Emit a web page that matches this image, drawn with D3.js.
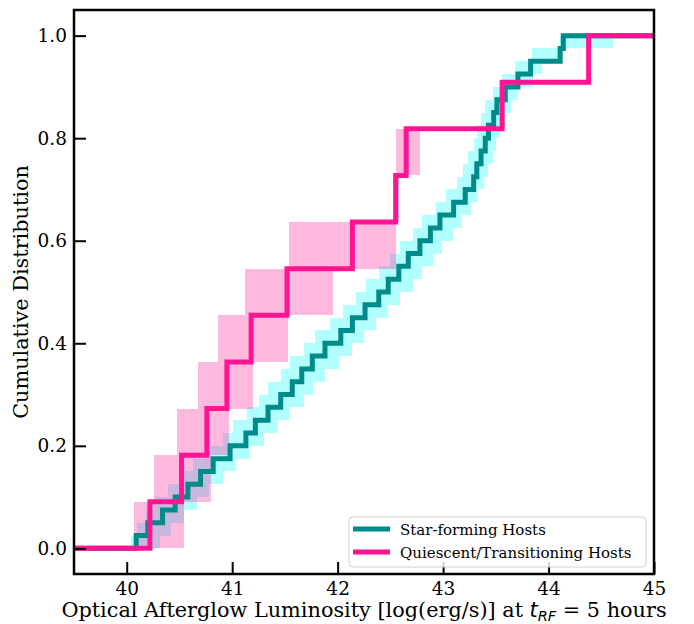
<!DOCTYPE html>
<html>
<head>
<meta charset="utf-8">
<script src="https://cdn.jsdelivr.net/npm/d3@7"></script>
<style>
  html, body { margin: 0; padding: 0; background: #fff; }
  svg { display: block; }
  text { font-family: "DejaVu Serif", serif; fill: #000; }
</style>
</head>
<body>
<svg id="chart" width="694" height="624"></svg>
<script>
// ---- Data ----
const xTicks = [40, 41, 42, 43, 44, 45];
const yTicks = [0.0, 0.2, 0.4, 0.6, 0.8, 1.0];
const seriesNames = ["Star-forming Hosts", "Quiescent/Transitioning Hosts"];

// Star-forming hosts: sorted luminosities (ECDF step positions)
const sfValues = [40.09, 40.20, 40.34, 40.46, 40.58, 40.70, 40.82, 40.98, 41.13, 41.22,
                  41.34, 41.46, 41.57, 41.66, 41.76, 41.88, 42.03, 42.14, 42.26, 42.39,
                  42.48, 42.58, 42.67, 42.78, 42.88, 42.97, 43.10, 43.21, 43.29, 43.32,
                  43.36, 43.40, 43.43, 43.48, 43.51, 43.59, 43.71, 43.83, 44.11, 44.14];
// Star-forming uncertainty band (left / right edge for each CDF level)
const sfLow  = [40.04, 40.10, 40.18, 40.27, 40.39, 40.51, 40.63, 40.75, 40.91, 41.01,
                41.14, 41.25, 41.34, 41.46, 41.55, 41.68, 41.79, 41.93, 42.05, 42.17,
                42.27, 42.39, 42.50, 42.59, 42.71, 42.80, 42.93, 43.03, 43.13, 43.19,
                43.24, 43.29, 43.32, 43.36, 43.40, 43.47, 43.56, 43.68, 43.84, 44.11];
const sfHigh = [40.32, 40.42, 40.54, 40.67, 40.78, 40.91, 41.03, 41.17, 41.30, 41.43,
                41.55, 41.68, 41.77, 41.88, 42.01, 42.14, 42.25, 42.36, 42.48, 42.59,
                42.71, 42.80, 42.90, 42.99, 43.09, 43.18, 43.26, 43.33, 43.39, 43.43,
                43.47, 43.50, 43.54, 43.59, 43.64, 43.71, 43.85, 43.94, 44.13, 44.61];

// Quiescent/transitioning hosts
const qtValues = [40.22, 40.52, 40.76, 40.95, 41.18, 41.52, 42.14, 42.55, 42.65, 43.56, 44.38];
const qtLow    = [40.07, 40.26, 40.48, 40.68, 40.87, 41.12, 41.54, 42.53, 42.55, 43.56, 44.38];
const qtHigh   = [40.54, 40.80, 40.97, 41.20, 41.53, 41.96, 42.55, 42.58, 42.78, 43.56, 44.38];

const colors = { sf: "#008b8b", qt: "#ff1493", sfBand: "#00ffff", qtBand: "#ff1493" };

// ---- Layout ----
const W = 694, H = 624;
const m = { left: 74, right: 654, top: 10, bottom: 574 };
const svg = d3.select("#chart");

const x = d3.scaleLinear().domain([39.5, 45]).range([m.left, m.right]);
const y = d3.scaleLinear().domain([-0.05, 1.05]).range([m.bottom, m.top]);

const plot = svg.append("g");
plot.append("clipPath").attr("id", "clip")
  .append("rect").attr("x", m.left).attr("y", m.top)
  .attr("width", m.right - m.left).attr("height", m.bottom - m.top);
const g = plot.append("g").attr("clip-path", "url(#clip)");

function bandPath(lo, hi) {
  const n = lo.length;
  const p = d3.path();
  for (let k = 0; k < n; k++) {
    const x0 = x(lo[k]), x1 = x(hi[k]);
    const y0 = y(k / n), y1 = y((k + 1) / n);
    if (x1 - x0 <= 0.01) continue;
    p.rect(x0, y1, x1 - x0, y0 - y1);
  }
  return p.toString();
}

function stepPath(vals) {
  const n = vals.length;
  const pts = [[x.domain()[0], 0]];
  vals.forEach((v, i) => { pts.push([v, i / n]); pts.push([v, (i + 1) / n]); });
  pts.push([x.domain()[1], 1]);
  return d3.line().x(d => x(d[0])).y(d => y(d[1]))(pts);
}

// Bands
g.append("path").attr("d", bandPath(sfLow, sfHigh))
  .attr("fill", colors.sfBand).attr("fill-opacity", 0.3).attr("shape-rendering", "crispEdges");
g.append("path").attr("d", bandPath(qtLow, qtHigh))
  .attr("fill", colors.qtBand).attr("fill-opacity", 0.3).attr("shape-rendering", "crispEdges");

// Lines
g.append("path").attr("d", stepPath(sfValues))
  .attr("fill", "none").attr("stroke", colors.sf).attr("stroke-width", 5)
  .attr("stroke-linejoin", "miter");
g.append("path").attr("d", stepPath(qtValues))
  .attr("fill", "none").attr("stroke", colors.qt).attr("stroke-width", 5)
  .attr("stroke-linejoin", "miter");

// Axes (ticks inward)
const xAxis = d3.axisBottom(x).tickValues(xTicks).tickFormat(d3.format("d"))
  .tickSizeInner(-12).tickSizeOuter(0).tickPadding(20);
const yAxis = d3.axisLeft(y).tickValues(yTicks).tickFormat(d3.format(".1f"))
  .tickSizeInner(-12).tickSizeOuter(0).tickPadding(20);

const gx = svg.append("g").attr("transform", `translate(0,${m.bottom})`).call(xAxis);
const gy = svg.append("g").attr("transform", `translate(${m.left},0)`).call(yAxis);
[gx, gy].forEach(a => {
  a.select(".domain").remove();
  a.selectAll(".tick line").attr("stroke", "#000").attr("stroke-width", 2);
  a.selectAll(".tick text").attr("font-family", "DejaVu Serif").attr("font-size", 18.5).attr("fill", "#000");
});
gx.selectAll(".tick text").attr("dy", "0.71em").attr("y", 8);
gy.selectAll(".tick text").attr("x", -7);

// Frame
svg.append("rect").attr("x", m.left).attr("y", m.top)
  .attr("width", m.right - m.left).attr("height", m.bottom - m.top)
  .attr("fill", "none").attr("stroke", "#000").attr("stroke-width", 2.5);

// Axis labels
const xl = svg.append("text").attr("x", (m.left + m.right) / 2).attr("y", 617)
  .attr("text-anchor", "middle").attr("font-size", 20.8);
xl.append("tspan").text("Optical Afterglow Luminosity [log(erg/s)] at ");
xl.append("tspan").attr("font-family", "DejaVu Sans").attr("font-style", "italic").text("t");
xl.append("tspan").attr("font-family", "DejaVu Sans").attr("font-style", "italic")
  .attr("font-size", 14.5).attr("dy", 4).text("RF");
xl.append("tspan").attr("dy", -4).text(" = 5 hours");

svg.append("text")
  .attr("transform", `translate(28,${(m.top + m.bottom) / 2}) rotate(-90)`)
  .attr("text-anchor", "middle").attr("font-size", 20.8)
  .text("Cumulative Distribution");

// Legend
const lg = svg.append("g");
lg.append("rect").attr("x", 349).attr("y", 517).attr("width", 297).attr("height", 50)
  .attr("rx", 4).attr("fill", "#fff").attr("fill-opacity", 0.8)
  .attr("stroke", "#d0d0d0").attr("stroke-width", 1);
const legendItems = [
  { name: seriesNames[0], color: colors.sf },
  { name: seriesNames[1], color: colors.qt }
];
legendItems.forEach((d, i) => {
  const cy = 529 + i * 23;
  lg.append("line").attr("x1", 353).attr("x2", 390).attr("y1", cy).attr("y2", cy)
    .attr("stroke", d.color).attr("stroke-width", 5);
  lg.append("text").attr("x", 400).attr("y", cy + 5.5).attr("font-size", 15).text(d.name);
});
</script>
</body>
</html>
